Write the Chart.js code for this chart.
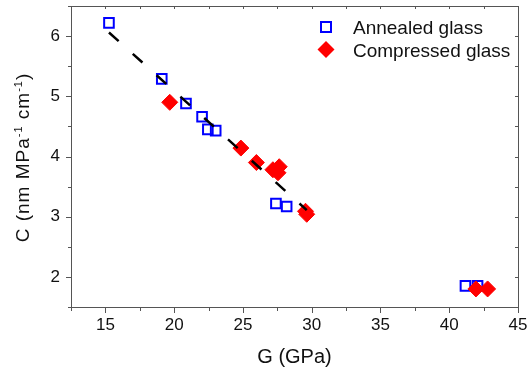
<!DOCTYPE html>
<html>
<head>
<meta charset="utf-8">
<script src="https://cdn.jsdelivr.net/npm/chart.js@4.4.1/dist/chart.umd.min.js"></script>
<style>
html, body { margin: 0; padding: 0; background: #fff; }
</style>
</head>
<body>
<canvas id="chart" width="528" height="367"></canvas>
<script>
var annealedG   = [15.26, 19.10, 20.86, 22.03, 22.45, 23.02, 27.40, 28.18, 41.18, 42.06];
var annealedC   = [6.22, 5.29, 4.88, 4.66, 4.45, 4.43, 3.22, 3.17, 1.85, 1.85];
var compressedG = [19.68, 24.85, 25.98, 27.18, 27.64, 27.55, 29.64, 29.55, 41.94, 42.79];
var compressedC = [4.90, 4.14, 3.90, 3.78, 3.83, 3.73, 3.04, 3.09, 1.80, 1.80];
var fitG = [15.26, 29.64];
var fitC = [6.06, 3.11];
var xTicks = [15, 20, 25, 30, 35, 40, 45];
var yTicks = [2, 3, 4, 5, 6];
var legendLabels = ["Annealed glass", "Compressed glass"];

var FONT = "'Liberation Sans', Arial, sans-serif";
var AXIS = "#555555";

function pts(xs, ys) {
    return xs.map(function (x, i) { return { x: x, y: ys[i] }; });
}

function noPad(s) {
    s.paddingTop = 0; s.paddingBottom = 0; s.paddingLeft = 0; s.paddingRight = 0;
}

// frame, major/minor ticks on all four sides, y title, legend
var frameTicks = {
    id: 'frameTicks',
    afterDraw: function (chart) {
        var ctx = chart.ctx;
        var sx = chart.scales.x, sy = chart.scales.y;
        var L = Math.round(sx.left), R = Math.round(sx.right);
        var T = Math.round(sy.top), B = Math.round(sy.bottom);
        ctx.save();
        ctx.fillStyle = AXIS;
        ctx.fillRect(L, T, R - L, 1);
        ctx.fillRect(L, B, R - L + 1, 1);
        ctx.fillRect(L, T, 1, B - T);
        ctx.fillRect(R, T, 1, B - T + 1);
        var i, v, px, py, major;
        for (i = 0; i <= 13; i++) {
            v = 12.5 + i * 2.5;
            px = Math.round(sx.getPixelForValue(v));
            major = xTicks.indexOf(v) >= 0;
            ctx.fillRect(px, B, 1, major ? 6 : 4);
            ctx.fillRect(px, T, 1, 3);
        }
        for (i = 0; i <= 10; i++) {
            v = 1.5 + i * 0.5;
            py = Math.round(sy.getPixelForValue(v));
            major = yTicks.indexOf(v) >= 0;
            ctx.fillRect(L - (major ? 5 : 3), py, major ? 5 : 3, 1);
            ctx.fillRect(R - 3, py, 3, 1);
        }
        ctx.restore();

        // y title with superscripts
        var parts = [["C (nm MPa", false], ["-1", true], [" cm", false], ["-1", true], [")", false]];
        ctx.save();
        ctx.translate(29, 157.5);
        ctx.rotate(-Math.PI / 2);
        ctx.fillStyle = "#111";
        ctx.textAlign = "left";
        ctx.textBaseline = "alphabetic";
        if ('letterSpacing' in ctx) ctx.letterSpacing = "1px";
        var total = 0;
        parts.forEach(function (p) {
            ctx.font = (p[1] ? "11px " : "19px ") + FONT;
            p.w = ctx.measureText(p[0]).width;
            total += p.w;
        });
        var cx = -total / 2;
        parts.forEach(function (p) {
            ctx.font = (p[1] ? "11px " : "19px ") + FONT;
            ctx.fillText(p[0], cx, p[1] ? -7 : 0);
            cx += p.w;
        });
        ctx.restore();

        // legend
        ctx.save();
        ctx.strokeStyle = "#0000ff";
        ctx.lineWidth = 2;
        ctx.strokeRect(321, 22, 10, 10);
        ctx.fillStyle = "#ff0000";
        ctx.beginPath();
        ctx.moveTo(326, 41); ctx.lineTo(334.5, 49.5); ctx.lineTo(326, 58); ctx.lineTo(317.5, 49.5);
        ctx.closePath(); ctx.fill();
        ctx.fillStyle = "#111";
        ctx.font = "19px " + FONT;
        ctx.textAlign = "left";
        ctx.textBaseline = "alphabetic";
        ctx.fillText(legendLabels[0], 353, 33.5);
        ctx.fillText(legendLabels[1], 353, 57);
        ctx.restore();
    }
};

var chart = new Chart(document.getElementById("chart"), {
    type: 'scatter',
    data: {
        datasets: [
            {
                label: "Fit",
                type: 'line',
                data: pts(fitG, fitC),
                borderColor: "#000",
                borderWidth: 2.5,
                borderDash: [13, 19],
                pointRadius: 0,
                showLine: true,
                fill: false,
                order: 0
            },
            {
                label: legendLabels[1],
                data: pts(compressedG, compressedC),
                pointStyle: 'rectRot',
                pointRadius: 8,
                backgroundColor: "#ff0000",
                borderColor: "#ff0000",
                borderWidth: 1,
                order: 1
            },
            {
                label: legendLabels[0],
                data: pts(annealedG, annealedC),
                pointStyle: 'rect',
                pointRadius: 6.8,
                backgroundColor: "rgba(0,0,0,0)",
                borderColor: "#0000ff",
                borderWidth: 2,
                order: 2
            }
        ]
    },
    options: {
        responsive: false,
        animation: false,
        layout: { autoPadding: false, padding: { left: 0, right: 10, top: 6, bottom: 0 } },
        plugins: { legend: { display: false }, tooltip: { enabled: false } },
        scales: {
            x: {
                type: 'linear',
                min: 12.5,
                max: 45,
                afterBuildTicks: function (s) { s.ticks = xTicks.map(function (v) { return { value: v }; }); },
                afterFit: function (s) { s.height = 60; noPad(s); },
                grid: { display: false, drawTicks: false },
                border: { display: false },
                ticks: { color: "#111", padding: 8, maxRotation: 0, font: { family: FONT, size: 17 } },
                title: { display: true, text: "G (GPa)", color: "#111", padding: { top: 0, bottom: 0 },
                         font: { family: FONT, size: 20, lineHeight: 1 } }
            },
            y: {
                type: 'linear',
                min: 1.5,
                max: 6.5,
                afterBuildTicks: function (s) { s.ticks = yTicks.map(function (v) { return { value: v }; }); },
                afterFit: function (s) { s.width = 71; noPad(s); },
                grid: { display: false, drawTicks: false },
                border: { display: false },
                ticks: { color: "#111", padding: 11, font: { family: FONT, size: 17 } }
            }
        }
    },
    plugins: [frameTicks]
});
</script>
</body>
</html>
